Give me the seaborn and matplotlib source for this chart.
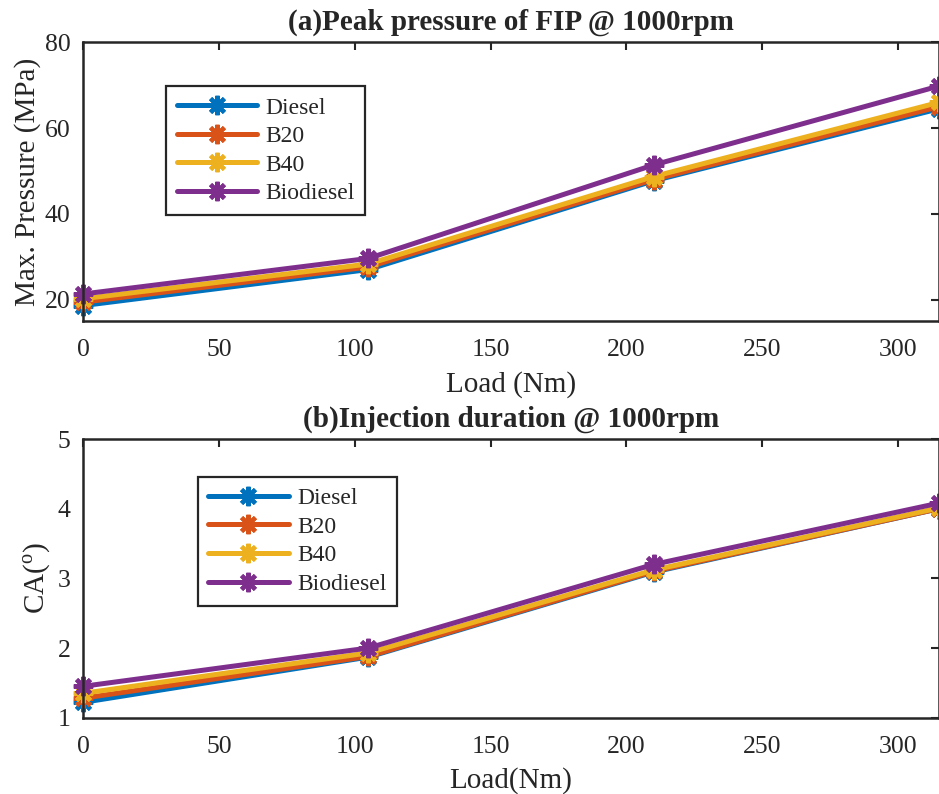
import pandas as pd
import numpy as np
import matplotlib.pyplot as plt
import seaborn as sns

load = [0, 105, 210, 315]
fuels = ['Diesel', 'B20', 'B40', 'Biodiesel']

# (a) peak pressure, MPa
p_diesel = [18.6, 27.0, 47.7, 64.5]
p_b20 = [19.4, 27.6, 48.0, 65.0]
p_b40 = [20.2, 28.3, 48.7, 66.0]
p_bio = [21.3, 29.6, 51.4, 69.8]

# (b) injection duration, CA deg
d_diesel = [1.22, 1.87, 3.09, 4.00]
d_b20 = [1.28, 1.88, 3.10, 4.00]
d_b40 = [1.35, 1.93, 3.12, 4.01]
d_bio = [1.45, 2.00, 3.20, 4.08]

colors = ['#0072BD', '#D95319', '#EDB120', '#7E2F8E']

sns.set_style('white')
plt.rcParams['font.family'] = ['Liberation Serif', 'DejaVu Serif']
plt.rcParams['mathtext.fontset'] = 'custom'
plt.rcParams['mathtext.rm'] = 'Liberation Serif'


def long_df(series):
    rows = []
    for name, vals in zip(fuels, series):
        for x, v in zip(load, vals):
            rows.append({'Load': x, 'Value': v, 'Fuel': name})
    return pd.DataFrame(rows)


fig = plt.figure(figsize=(9.39, 7.94), dpi=100)
ax_a = fig.add_axes([0.0884, 0.5957, 0.9116, 0.351])
ax_b = fig.add_axes([0.0884, 0.0961, 0.9116, 0.351])

panels = [
    (ax_a, long_df([p_diesel, p_b20, p_b40, p_bio]), '(a)Peak pressure of FIP @ 1000rpm',
     'Max. Pressure (MPa)', 'Load (Nm)', (15, 80), np.arange(20, 81, 20), (0.097, 0.842)),
    (ax_b, long_df([d_diesel, d_b20, d_b40, d_bio]), '(b)Injection duration @ 1000rpm',
     r'CA($^\mathrm{o}$)', 'Load(Nm)', (1, 5), np.arange(1, 6, 1), (0.134, 0.864)),
]

for ax, df, title, ylab, xlab, ylim, yticks, legpos in panels:
    # MATLAB-like '*' marker: 8-arm asterisk drawn thick
    sns.lineplot(data=df, x='Load', y='Value', hue='Fuel', palette=colors, ax=ax,
                 marker=(8, 2, 0), markersize=14, markeredgewidth=3, linewidth=3.6,
                 clip_on=False, legend=False)
    for ln, c in zip(ax.lines, colors):
        ln.set_markeredgecolor(c)
    ax.set_xlim(0, 315)
    ax.set_ylim(*ylim)
    ax.set_xticks(np.arange(0, 301, 50))
    ax.set_yticks(yticks)
    ax.tick_params(direction='in', top=True, right=True, length=6, width=1.5,
                   labelsize=18.5, colors='#262626', pad=9)
    ax.tick_params(axis='x', pad=13)
    for s in ax.spines.values():
        s.set_linewidth(1.8)
        s.set_color('#262626')
    ax.set_title(title, fontsize=21, fontweight='bold', pad=9)
    ax.set_xlabel(xlab, fontsize=21, color='#262626', labelpad=7)
    ax.set_ylabel(ylab, fontsize=21, color='#262626', labelpad=3)
    leg = ax.legend(ax.lines[:4], fuels, loc='upper left', bbox_to_anchor=legpos,
                    fontsize=17, frameon=True, fancybox=False, edgecolor='#262626',
                    framealpha=1, handlelength=3.4, handletextpad=0.35,
                    labelspacing=0.3, borderpad=0.45, borderaxespad=0)
    leg.get_frame().set_linewidth(1.6)

fig.savefig('out.png', dpi=100)
